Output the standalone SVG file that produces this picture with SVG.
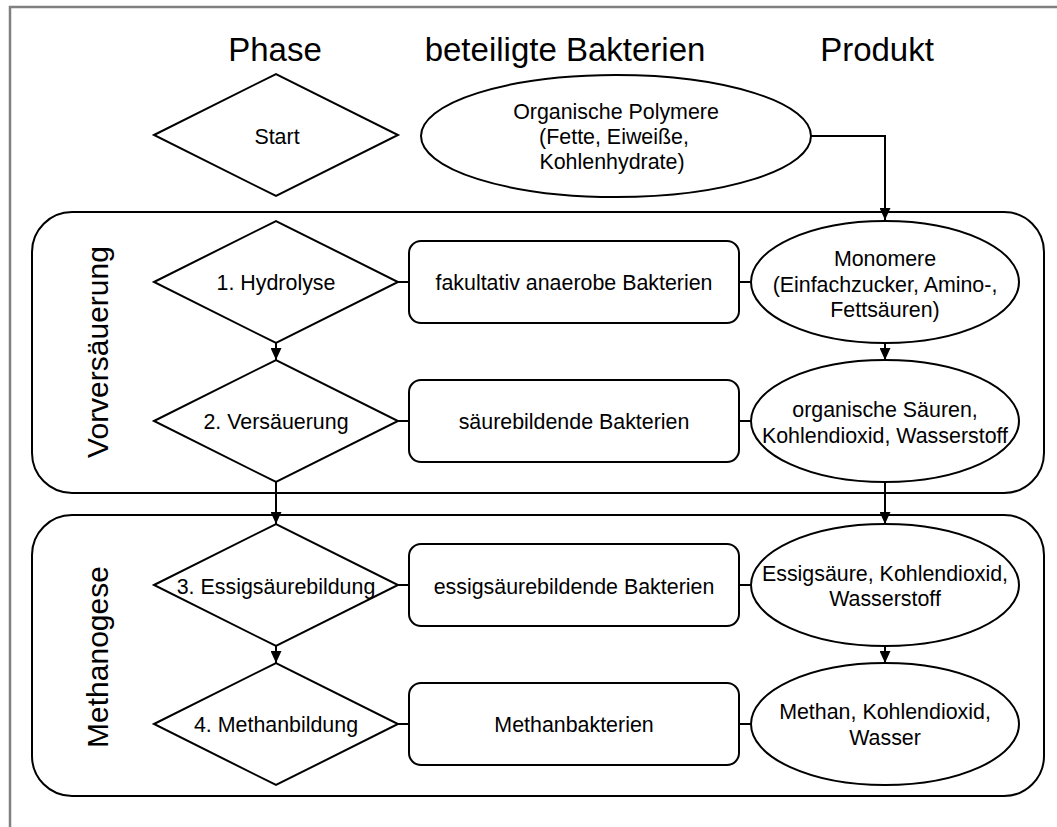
<svg xmlns="http://www.w3.org/2000/svg" width="1057" height="827" viewBox="0 0 1057 827">
<style>
  .shape { fill: #fff; stroke: #000; stroke-width: 2; }
  .group { fill: none; stroke: #000; stroke-width: 2; }
  .conn { fill: none; stroke: #000; stroke-width: 2; }
  .t { font-family: "Liberation Sans", Arial, sans-serif; font-size: 21.4px; fill: #000; text-anchor: middle; }
  .h { font-family: "Liberation Sans", Arial, sans-serif; font-size: 33px; fill: #000; text-anchor: middle; }
  .v { font-family: "Liberation Sans", Arial, sans-serif; font-size: 30px; fill: #000; text-anchor: middle; }
</style>
<defs>
  <marker id="arrow" markerUnits="userSpaceOnUse" markerWidth="12" markerHeight="11" refX="12" refY="5.5" orient="auto">
    <path d="M0,0 L12,5.5 L0,11 z" fill="#000"/>
  </marker>
</defs>
<rect x="0" y="0" width="1057" height="827" fill="#fff"/>
<rect x="10" y="7" width="1100" height="900" fill="none" stroke="#808080" stroke-width="2.5"/>

<g id="headers">
  <text class="h" x="275" y="61">Phase</text>
  <text class="h" x="565" y="61">beteiligte Bakterien</text>
  <text class="h" x="877" y="61">Produkt</text>
</g>

<g id="group-vorversaeuerung">
  <rect class="group" x="32" y="212" width="1012" height="281" rx="40" ry="40"/>
  <text class="v" transform="translate(108,352) rotate(-90)">Vorversäuerung</text>
</g>
<g id="group-methanogese">
  <rect class="group" x="32" y="515" width="1012" height="281" rx="40" ry="40"/>
  <text class="v" transform="translate(108,657) rotate(-90)">Methanogese</text>
</g>

<g id="connectors">
  <path class="conn" d="M811,136 H885 V220" marker-end="url(#arrow)"/>
  <path class="conn" d="M276,343 V360" marker-end="url(#arrow)"/>
  <path class="conn" d="M276,482 V524" marker-end="url(#arrow)"/>
  <path class="conn" d="M276,646 V663" marker-end="url(#arrow)"/>
  <path class="conn" d="M885,343 V360" marker-end="url(#arrow)"/>
  <path class="conn" d="M885,482 V524" marker-end="url(#arrow)"/>
  <path class="conn" d="M885,646 V663" marker-end="url(#arrow)"/>
  <path class="conn" d="M398,282 H409 M739,282 H751"/>
  <path class="conn" d="M398,421 H409 M739,421 H751"/>
  <path class="conn" d="M398,585 H409 M739,585 H751"/>
  <path class="conn" d="M398,724 H409 M739,724 H751"/>
</g>

<g id="start">
  <polygon class="shape" points="154,135 276,74 398,135 276,196"/>
  <text class="t" x="277" y="144">Start</text>
</g>
<g id="polymere">
  <ellipse class="shape" cx="616" cy="136" rx="195" ry="61"/>
  <text class="t" x="616" y="119">Organische Polymere</text>
  <text class="t" x="614" y="144">(Fette, Eiweiße,</text>
  <text class="t" x="612" y="169">Kohlenhydrate)</text>
</g>

<g id="hydrolyse">
  <polygon class="shape" points="154,282 276,221 398,282 276,343"/>
  <text class="t" x="276" y="290">1. Hydrolyse</text>
</g>
<g id="fakultativ">
  <rect class="shape" x="409" y="241" width="330" height="82" rx="12" ry="12"/>
  <text class="t" x="574" y="290">fakultativ anaerobe Bakterien</text>
</g>
<g id="monomere">
  <ellipse class="shape" cx="885" cy="282" rx="134" ry="61"/>
  <text class="t" x="885" y="266">Monomere</text>
  <text class="t" x="885" y="292">(Einfachzucker, Amino-,</text>
  <text class="t" x="885" y="317">Fettsäuren)</text>
</g>

<g id="versaeuerung">
  <polygon class="shape" points="154,421 276,360 398,421 276,482"/>
  <text class="t" x="276" y="429">2. Versäuerung</text>
</g>
<g id="saeurebildende">
  <rect class="shape" x="409" y="380" width="330" height="82" rx="12" ry="12"/>
  <text class="t" x="574" y="429">säurebildende Bakterien</text>
</g>
<g id="organische-saeuren">
  <ellipse class="shape" cx="885" cy="421" rx="134" ry="61"/>
  <text class="t" x="885" y="417">organische Säuren,</text>
  <text class="t" x="885" y="443">Kohlendioxid, Wasserstoff</text>
</g>

<g id="essigsaeurebildung">
  <polygon class="shape" points="154,585 276,524 398,585 276,646"/>
  <text class="t" x="276" y="594">3. Essigsäurebildung</text>
</g>
<g id="essigsaeurebildende">
  <rect class="shape" x="409" y="544" width="330" height="82" rx="12" ry="12"/>
  <text class="t" x="574" y="594">essigsäurebildende Bakterien</text>
</g>
<g id="essigsaeure">
  <ellipse class="shape" cx="885" cy="585" rx="134" ry="61"/>
  <text class="t" x="885" y="581">Essigsäure, Kohlendioxid,</text>
  <text class="t" x="885" y="606">Wasserstoff</text>
</g>

<g id="methanbildung">
  <polygon class="shape" points="154,724 276,663 398,724 276,785"/>
  <text class="t" x="276" y="732">4. Methanbildung</text>
</g>
<g id="methanbakterien">
  <rect class="shape" x="409" y="683" width="330" height="82" rx="12" ry="12"/>
  <text class="t" x="574" y="732">Methanbakterien</text>
</g>
<g id="methan">
  <ellipse class="shape" cx="885" cy="724" rx="134" ry="61"/>
  <text class="t" x="885" y="719">Methan, Kohlendioxid,</text>
  <text class="t" x="885" y="745">Wasser</text>
</g>
</svg>
